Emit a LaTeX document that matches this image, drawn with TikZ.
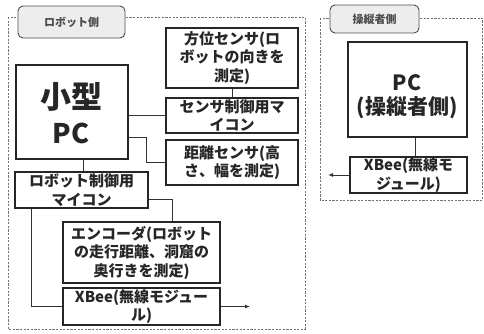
\documentclass[tikz,border=0pt]{standalone}
\usepackage{fontspec}
\setmainfont{Noto Sans CJK JP}
\usetikzlibrary{arrows.meta}
\begin{document}
\begin{tikzpicture}[x=1pt,y=-1pt,
  box/.style={draw=black!85, line width=1.4pt, fill=white, inner sep=0pt, align=center,
    font=\fontsize{15}{18.5}\selectfont\bfseries, text=black!85},
  big/.style={inner sep=0pt, font=\bfseries, text=black!85},
  frame/.style={draw=black!55, line width=0.8pt, dash pattern=on 2.2pt off 1.4pt},
  tab/.style={draw=black!70, line width=0.9pt, fill=black!7, rounded corners=5pt, inner sep=0pt,
    font=\fontsize{11}{12}\selectfont\bfseries, text=black!70},
  conn/.style={draw=black!80, line width=0.9pt},
  arr/.style={conn, -{Latex[length=5pt,width=4pt]}}]
\useasboundingbox (0,0) rectangle (484,333);
% frames
\draw[frame] (8,17) rectangle (305,329);
\draw[frame] (320,18) rectangle (482.5,200);
\node[tab, minimum width=107, minimum height=32] (tab1) at (71.5,22) {ロボット側};
\node[tab, minimum width=89, minimum height=28] (tab2) at (374.5,19) {操縦者側};
% left side
\node[box, minimum width=112, minimum height=94] (pc) at (72,112) {};
\node[big, font=\fontsize{31}{36}\selectfont\bfseries] (pcA) at (71,97) {小型};
\node[big, font=\fontsize{27}{30}\selectfont\bfseries] (pcB) at (71,133) {PC};
\node[box, minimum width=132, minimum height=60] (hoi) at (232,58) {方位センサ(ロ\\ボットの向きを\\測定)};
\node[box, minimum width=132, minimum height=35] (sens) at (232,115.5) {センサ制御用マ\\イコン};
\node[box, minimum width=132, minimum height=45] (dist) at (232,162.5) {距離センサ(高\\さ、幅を測定)};
\node[box, minimum width=133, minimum height=36] (ctrl) at (81.5,190) {ロボット制御用\\マイコン};
\node[box, minimum width=157, minimum height=61] (enc) at (141.5,252.5) {エンコーダ(ロボット\\の走行距離、洞窟の\\奥行きを測定)};
\node[box, minimum width=157, minimum height=37] (xb1) at (141.5,306.5) {XBee(無線モジュー\\ル)};
% right side
\node[box, minimum width=119, minimum height=95] (pc2) at (407.5,89.5) {};
\node[big, font=\fontsize{21}{25}\selectfont\bfseries] (pc2A) at (407,83) {PC};
\node[big, font=\fontsize{21}{25}\selectfont\bfseries] (pc2B) at (407,108) {(操縦者側)};
\node[box, minimum width=117, minimum height=36] (xb2) at (408.5,175) {XBee(無線モ\\ジュール)};
\coordinate (out1) at (250,306.5);
\coordinate (out2) at (328,175);
% connectors
\draw[conn] (hoi.south) -- (sens.north);
\draw[conn] (sens.west) -- (sens.west -| pc.east);
\draw[conn] ([yshift=-25pt]pc.east) -| ([xshift=-19pt]dist.west) -- (dist.west);
\draw[conn] ([xshift=11pt]pc.south) -- ([xshift=11pt]pc.south |- ctrl.north);
\draw[conn] ([yshift=-9pt]ctrl.east) -| ([xshift=31pt]enc.north);
\draw[conn] ([xshift=17pt]ctrl.south west) |- (xb1.west);
\draw[arr] (xb1.east) -- (out1);
\draw[conn] ([xshift=8pt]pc2.south) -- ([xshift=8pt]pc2.south |- xb2.north);
\draw[arr] (xb2.west) -- (out2);
\end{tikzpicture}
\end{document}
